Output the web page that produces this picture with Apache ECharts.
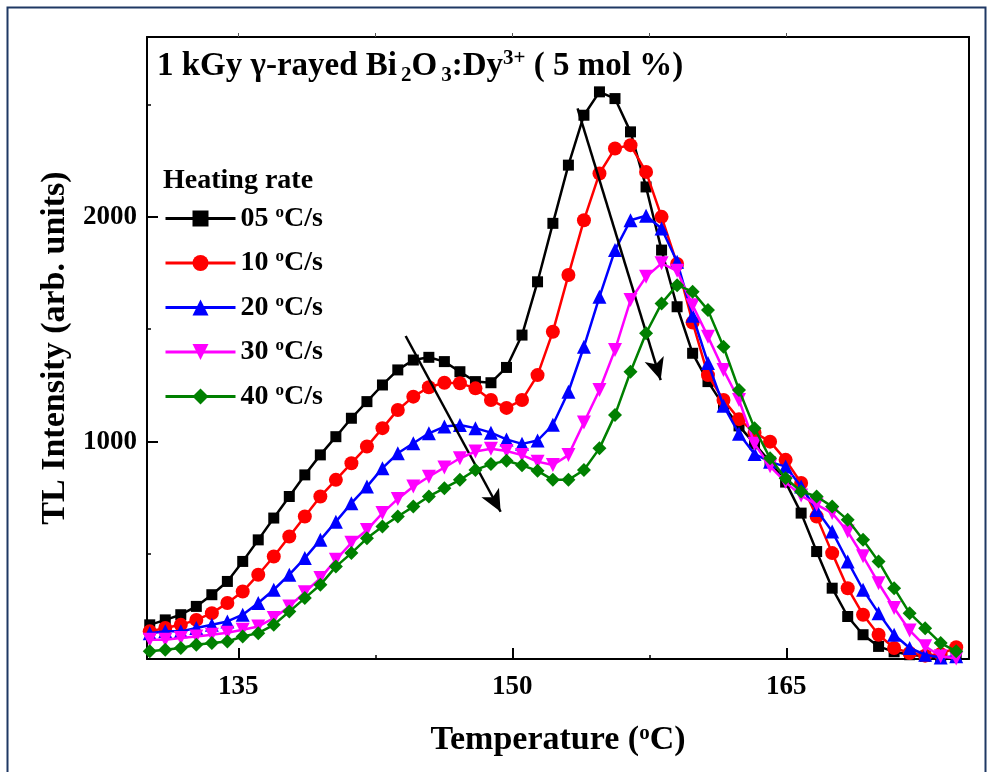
<!DOCTYPE html>
<html><head><meta charset="utf-8">
<script src="https://cdn.jsdelivr.net/npm/echarts@6/dist/echarts.min.js"></script>
<style>html,body{margin:0;padding:0;background:#fff}#c{width:993px;height:772px}</style>
</head><body><div id="c"></div>
<script>
// Temperature (°C) of each measured point
const temps = [130.15,131.00,131.85,132.70,133.55,134.40,135.24,136.09,136.94,137.79,
138.64,139.49,140.34,141.19,142.04,142.89,143.73,144.58,145.43,146.28,
147.13,147.98,148.83,149.68,150.53,151.38,152.22,153.07,153.92,154.77,
155.62,156.47,157.32,158.17,159.02,159.87,160.71,161.56,162.41,163.26,
164.11,164.96,165.81,166.66,167.51,168.36,169.20,170.05,170.90,171.75,
172.60,173.45,174.30];

const rate05 = [185,207,230,267,319,378,467,563,660,756,
852,941,1022,1104,1178,1252,1319,1363,1375,1356,
1311,1267,1262,1330,1474,1711,1971,2230,2452,2556,
2526,2378,2133,1852,1600,1393,1267,1160,1070,990,
910,820,682,511,348,222,141,89,65,52,
45,42,40];
const rate10 = [156,171,185,207,237,282,333,408,489,578,
667,756,830,904,978,1060,1141,1200,1242,1262,
1260,1237,1185,1150,1185,1296,1489,1741,1985,2193,
2304,2319,2200,2000,1790,1530,1296,1185,1100,1040,
1000,919,816,667,504,348,230,141,82,60,
48,55,85];
const rate20 = [148,156,156,171,185,200,230,282,341,408,
482,563,644,726,800,882,948,993,1037,1067,
1074,1060,1040,1010,990,1005,1075,1222,1422,1644,
1852,1985,2005,1948,1800,1560,1350,1160,1035,945,
910,889,800,696,600,467,341,237,141,82,
52,40,45];
const rate30 = [119,119,126,133,141,150,163,178,215,267,
330,393,474,550,607,682,745,800,844,885,
926,956,968,958,940,911,896,940,1085,1230,
1408,1630,1733,1793,1760,1607,1467,1319,1185,990,
890,820,760,720,682,600,490,370,260,160,
90,45,35];
const rate40 = [67,74,82,96,104,111,133,148,185,244,
304,363,444,504,570,622,667,711,756,793,
830,874,900,915,895,870,830,830,874,970,
1119,1311,1482,1615,1696,1667,1585,1422,1230,1060,
926,837,778,756,711,652,563,467,348,237,
170,104,67];

const seriesNames = ['05 ºC/s','10 ºC/s','20 ºC/s','30 ºC/s','40 ºC/s'];
const xMajorTicks = [135,150,165];
const xMinorTicks = [142.5,157.5];
const yMajorTicks = [1000,2000];
const yMinorTicks = [500,1500,2500];
// arrows: [start [T, I], end [T, I]]
const arrows = [[[144.16,1470],[149.36,688]], [[153.57,2482],[158.12,1274]]];

const FONT = '"Liberation Serif","Times New Roman",serif';
const allValues = [rate05, rate10, rate20, rate30, rate40];
const colors = ['#000000','#FF0000','#0000FF','#FF00FF','#008000'];
const symbols = ['rect','circle','triangle','triangle','diamond'];
const symSizes = [11,14,14,14,14];
const symRot = [0,0,0,180,0];

const series = allValues.map((vals,k)=>({
  name: seriesNames[k], type:'line',
  data: temps.map((t,i)=>[t, vals[i]]),
  symbol: symbols[k], symbolSize: symSizes[k], symbolRotate: symRot[k],
  showAllSymbol: true,
  lineStyle:{color:colors[k], width:2.5},
  itemStyle:{color:colors[k]},
  emphasis:{disabled:true},
  z: 2 + k
}));
series.push({
  name:'arrows', type:'line', data:[], silent:true,
  markLine:{
    silent:true, symbol:['none','arrow'], symbolSize:[15,22],
    lineStyle:{color:'#000', width:2.5, type:'solid'},
    itemStyle:{color:'#000'},
    label:{show:false}, emphasis:{disabled:true},
    data: arrows.map(a=>[{coord:a[0]},{coord:a[1]}])
  },
  z: 10
});

const chart = echarts.init(document.getElementById('c'), null, {renderer:'canvas'});
const baseX = {type:'value', min:130, max:175, gridIndex:0, splitLine:{show:false}};
const baseY = {type:'value', min:33, max:2800, gridIndex:0, splitLine:{show:false}};
chart.setOption({
  animation:false,
  backgroundColor:'#ffffff',
  graphic:[
    {type:'rect', shape:{x:7.5,y:7.5,width:978,height:790}, style:{fill:'none', stroke:'#1F3864', lineWidth:2}, silent:true},
    {type:'text', left:163, top:167, style:{text:'Heating rate', font:'bold 28px '+FONT, fill:'#000'}}
  ],
  title:{
    left:152, top:42,
    text:'{a|1 kGy γ-rayed Bi}{sub|2}{a|O}{sub|3}{a|:Dy}{sup|3+}{a| ( 5 mol %)}',
    textStyle:{rich:{
      a:{fontFamily:FONT, fontWeight:'bold', fontSize:33, color:'#000'},
      sub:{fontFamily:FONT, fontWeight:'bold', fontSize:21, color:'#000', padding:[18,0,0,4]},
      sup:{fontFamily:FONT, fontWeight:'bold', fontSize:21, color:'#000', padding:[0,0,16,0]}
    }}
  },
  legend:{
    orient:'vertical', left:159, top:199, itemWidth:70, itemHeight:20, itemGap:16,
    data: seriesNames,
    lineStyle:{width:3},
    formatter: n => '{a|' + n.split(' ')[0] + ' }{s|o}{a|C/s}',
    textStyle:{rich:{
      a:{fontFamily:FONT, fontWeight:'bold', fontSize:28, lineHeight:30, color:'#000'},
      s:{fontFamily:FONT, fontWeight:'bold', fontSize:17, color:'#000', padding:[0,0,12,0]}
    }}
  },
  grid:{left:147, right:24, top:37, bottom:113, containLabel:false},
  xAxis:[
    Object.assign({}, baseX, {
      position:'bottom',
      name:'{a|Temperature (}{s|o}{a|C)}', nameLocation:'middle', nameGap:64,
      nameTextStyle:{rich:{
        a:{fontFamily:FONT, fontWeight:'bold', fontSize:34, color:'#000'},
        s:{fontFamily:FONT, fontWeight:'bold', fontSize:21, color:'#000', padding:[0,0,14,0]}
      }},
      axisLine:{show:true, onZero:false, lineStyle:{color:'#000', width:2}},
      axisTick:{show:true, inside:true, length:11, customValues:xMajorTicks, lineStyle:{color:'#000', width:2}},
      axisLabel:{show:true, customValues:xMajorTicks, margin:15, formatter:v=>String(v), fontFamily:FONT, fontWeight:'bold', fontSize:27, color:'#000'}
    }),
    Object.assign({}, baseX, {
      position:'bottom',
      axisLine:{show:false, onZero:false},
      axisTick:{show:true, inside:true, length:4, customValues:xMinorTicks, lineStyle:{color:'#000', width:1.5}},
      axisLabel:{show:false}
    }),
    Object.assign({}, baseX, {
      position:'top',
      axisLine:{show:true, onZero:false, lineStyle:{color:'#000', width:2}},
      axisTick:{show:true, inside:false, length:4, customValues:xMajorTicks.concat(xMinorTicks), lineStyle:{color:'#555', width:1}},
      axisLabel:{show:false}
    })
  ],
  yAxis:[
    Object.assign({}, baseY, {
      position:'left',
      name:'TL Intensity (arb. units)', nameLocation:'middle', nameGap:75,
      nameTextStyle:{fontFamily:FONT, fontWeight:'bold', fontSize:34, color:'#000'},
      axisLine:{show:true, onZero:false, lineStyle:{color:'#000', width:2}},
      axisTick:{show:true, inside:true, length:11, customValues:yMajorTicks, lineStyle:{color:'#000', width:2}},
      axisLabel:{show:true, customValues:yMajorTicks, margin:10, formatter:v=>String(v), fontFamily:FONT, fontWeight:'bold', fontSize:27, color:'#000'}
    }),
    Object.assign({}, baseY, {
      position:'left',
      axisLine:{show:false, onZero:false},
      axisTick:{show:true, inside:true, length:4, customValues:yMinorTicks, lineStyle:{color:'#000', width:1.5}},
      axisLabel:{show:false}
    }),
    Object.assign({}, baseY, {
      position:'right',
      axisLine:{show:true, onZero:false, lineStyle:{color:'#000', width:2}},
      axisTick:{show:false},
      axisLabel:{show:false}
    })
  ],
  series: series
});
</script></body></html>
